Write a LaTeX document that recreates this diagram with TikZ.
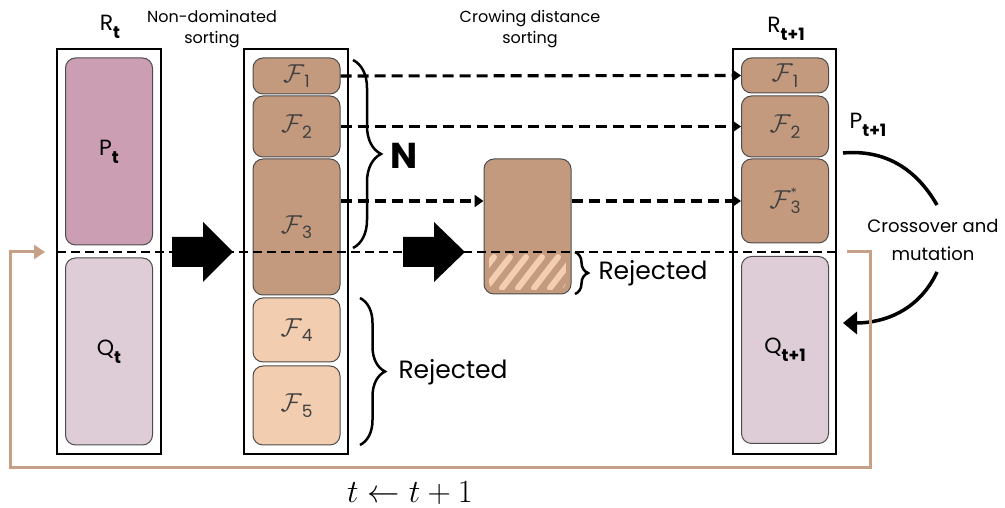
\documentclass[tikz,border=0pt]{standalone}
\usepackage{graphicx}
\usepackage{fontspec}
\setmainfont{Poppins}
\usetikzlibrary{arrows.meta,decorations.pathreplacing}
\definecolor{pfill}{HTML}{CC9EB3}
\definecolor{qfill}{HTML}{DECDD6}
\definecolor{fdark}{HTML}{C49A7E}
\definecolor{flight}{HTML}{F2CDB0}
\definecolor{lbrown}{HTML}{C8A088}
\newcommand{\lbl}[2]{#1\raisebox{-0.35em}{\fontsize{17}{17}\selectfont\bfseries #2}}
\newcommand{\front}[2][]{\scalebox{1.25}{$\mathcal{F}$}\rlap{\raisebox{0.5em}{\fontsize{13}{13}\selectfont #1}}\raisebox{-0.25em}{\fontsize{17}{17}\selectfont #2}}
\begin{document}
\begin{tikzpicture}[x=1pt,y=1pt,
    outer/.style={draw=black,line width=1.6pt,minimum width=104pt,minimum height=405pt},
    cell/.style={draw=black!70,line width=1pt,rounded corners=10pt,minimum width=87pt,inner sep=0pt},
    flab/.style={font=\fontsize{22}{22}\selectfont,text=black!75},
    txt/.style={font=\fontsize{22}{24}\selectfont,align=center},
    small/.style={font=\fontsize{16}{21}\selectfont,align=center},
    dasharrow/.style={line width=3.1pt,dash pattern=on 11pt off 6pt,-{Triangle[length=9pt,width=12pt]}},
    sep/.style={line width=2.6pt,dash pattern=on 9pt off 5pt},
    feedback/.style={draw=lbrown,line width=3pt},
    curved/.style={line width=3.5pt,-{Triangle[length=14pt,width=22pt]}},
    curly/.style={decorate,decoration={brace,amplitude=#1},line width=2.5pt},
    bigarrow/.style={fill=black}]
\useasboundingbox (0,0) rectangle (1005,508);

% population R_t
\node[outer] (R) at (109,256.5) {};
\node[cell,fill=pfill,minimum height=187pt,txt] (P) at (109,356.5) {\lbl{P}{t}};
\node[cell,fill=qfill,minimum height=187pt,txt] (Q) at (109,156.5) {\lbl{Q}{t}};
\node[txt] (Rlab) at (110,481) {\lbl{R}{t}};

% fronts after sorting
\node[outer] (S) at (296,256.5) {};
\node[cell,fill=fdark,minimum height=36pt,flab] (f1) at (296.5,432) {\front{1}};
\node[cell,fill=fdark,minimum height=61pt,flab] (f2) at (296.5,381.5) {\front{2}};
\node[cell,fill=fdark,minimum height=136pt,flab] (f3) at (296.5,281) {\front{3}};
\node[cell,fill=flight,minimum height=64pt,flab] (f4) at (296.5,178) {\front{4}};
\node[cell,fill=flight,minimum height=79pt,flab] (f5) at (296.5,102.5) {\front{5}};
\node[small] (ndlab) at (212,479) {Non-dominated\\sorting};

% crowding distance
\node[cell,fill=fdark,minimum height=135pt] (crowd) at (527.5,281.5) {};
\begin{scope}
  \clip[rounded corners=8pt] (489,218) rectangle (566,300);
  \clip (489,218) rectangle (566,253);
  \foreach \x in {470,486,...,566}
    \draw[flight,line width=6pt,line cap=round] (\x,220) -- (\x+24,251);
\end{scope}
\node[small] (cdlab) at (530,479) {Crowing distance\\sorting};

% population R_{t+1}
\node[outer,minimum width=103pt] (R2) at (784.5,256.5) {};
\node[cell,fill=fdark,minimum height=35pt,flab] (g1) at (785,432.5) {\front{1}};
\node[cell,fill=fdark,minimum height=61pt,flab] (g2) at (785,381.5) {\front{2}};
\node[cell,fill=fdark,minimum height=84pt,flab] (g3) at (785,307) {\front[*]{3}};
\node[cell,fill=qfill,minimum height=187pt,txt] (Q2) at (785,158) {\lbl{Q}{t+1}};
\node[txt] (R2lab) at (786,479) {\lbl{R}{t+1}};
\node[txt] (P2lab) at (868,383) {\lbl{P}{t+1}};

% selection arrows
\draw[dasharrow] (f1.east) -- (g1.west);
\draw[dasharrow] (f2.east |- g2.west) -- (g2.west);
\draw[dasharrow] (f3.east |- g3.west) -- (crowd.west |- g3.west);
\draw[dasharrow] (crowd.east |- g3.west) -- (g3.west);

% split between P and Q
\coordinate (sepL) at (57,256);
\coordinate (sepR) at (837,256);
\draw[sep] (sepL) -- (sepR);

\fill[bigarrow] (172,241) -- (203,241) -- (203,226) -- (233,256) -- (203,286) -- (203,271) -- (172,271) -- cycle;
\fill[bigarrow] (403,241) -- (434,241) -- (434,226) -- (465,256) -- (434,286) -- (434,271) -- (403,271) -- cycle;

% braces
\draw[curly=28pt] (353,448) -- (353,260);
\node[font=\fontsize{36}{36}\selectfont\bfseries] (N) at (404,352) {N};
\draw[curly=13pt] (575,256) -- (575,214);
\node[txt,font=\fontsize{25}{25}\selectfont,anchor=west] (rej1) at (595,235) {Rejected};
\draw[curly=25pt] (360,210) -- (360,63);
\node[txt,font=\fontsize{25}{25}\selectfont,anchor=west] (rej2) at (395,136) {Rejected};

% crossover and mutation
\node[small,font=\fontsize{18}{28}\selectfont] (cm) at (933,268) {Crossover and\\mutation};
\coordinate (c1) at (843,355);
\coordinate (c2) at (937,303);
\coordinate (c3) at (937,236);
\coordinate (c4) at (843,185);
\draw[line width=3.5pt] (c1) to[out=5,in=120] (c2);
\draw[curved] (c3) to[out=-115,in=0] (c4);

% next generation loop
\coordinate (l1) at (847,256);
\coordinate (l2) at (870,40);
\coordinate (l3) at (10,40);
\coordinate (l4) at (45,256);
\draw[feedback,-{Triangle[length=11pt,width=14pt]}] (l1) -| (l2) -- (l3) |- (l4);
\node[font=\fontsize{24}{24}\selectfont,scale=1.3] (tlab) at (410,15) {$t \leftarrow t+1$};
\end{tikzpicture}
\end{document}
